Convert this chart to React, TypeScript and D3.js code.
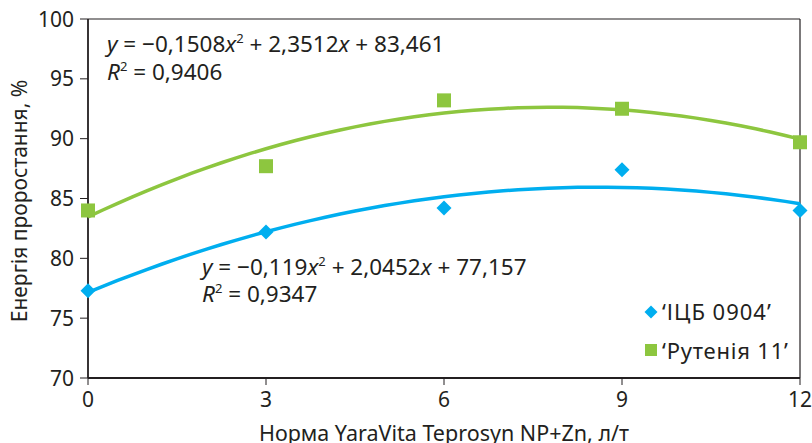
import React from "react";
import * as d3 from "d3";

const rates = [0, 3, 6, 9, 12];
const icbValues = [77.3, 82.2, 84.2, 87.4, 84.0];
const rutValues = [84.0, 87.7, 93.2, 92.5, 89.7];
const icbCoef = [-0.119, 2.0452, 77.157];
const rutCoef = [-0.1508, 2.3512, 83.461];
const yTicks = [70, 75, 80, 85, 90, 95, 100];
const xTicks = [0, 3, 6, 9, 12];
const seriesNames = ["‘ІЦБ 0904’", "‘Рутенія 11’"];

const W = 812, H = 443;
const M = { left: 88, right: 800, top: 19, bottom: 378 };
const BLUE = "#00aeef";
const GREEN = "#8dc63f";
const INK = "#231f20";
const FONT = "'Noto Sans', sans-serif";

export default function App() {
  const x = d3.scaleLinear().domain([0, 12]).range([M.left, M.right]);
  const y = d3.scaleLinear().domain([70, 100]).range([M.bottom, M.top]);
  const fine = d3.range(0, 12.001, 0.25);
  const poly = (c: number[], t: number) => c[0] * t * t + c[1] * t + c[2];
  const lineXY = d3
    .line<[number, number]>()
    .x((d) => x(d[0]))
    .y((d) => y(d[1]));
  const blueTrend = lineXY(fine.map((t) => [t, poly(icbCoef, t)] as [number, number]));
  const greenTrend = lineXY(fine.map((t) => [t, poly(rutCoef, t)] as [number, number]));

  const diamond = (cx: number, cy: number, r: number) =>
    `M${cx},${cy - r}L${cx + r},${cy}L${cx},${cy + r}L${cx - r},${cy}Z`;

  return (
    <svg width={W} height={H} style={{ position: "absolute", left: 0, top: 0 }} fontFamily={FONT}>
      <rect width={W} height={H} fill="#fff" />
      {/* frame */}
      <line x1={M.left} x2={M.right} y1={M.top} y2={M.top} stroke={INK} strokeWidth={1.2} />
      <line x1={M.right} x2={M.right} y1={M.top} y2={M.bottom} stroke={INK} strokeWidth={1.2} />
      <line x1={M.left} x2={M.left} y1={M.top} y2={M.bottom} stroke={INK} strokeWidth={1.8} />
      <line x1={M.left} x2={M.right} y1={M.bottom} y2={M.bottom} stroke={INK} strokeWidth={1.8} />
      {yTicks.map((t) => (
        <g key={"y" + t}>
          <line x1={M.left - 8} x2={M.left} y1={y(t)} y2={y(t)} stroke={INK} strokeWidth={1} />
          <text x={M.left - 14} y={y(t)} dy="0.36em" textAnchor="end" fontSize={21} fill={INK}>
            {t}
          </text>
        </g>
      ))}
      {xTicks.map((t) => (
        <g key={"x" + t}>
          <line x1={x(t)} x2={x(t)} y1={M.bottom} y2={M.bottom + 7} stroke={INK} strokeWidth={1} />
          <text x={x(t)} y={M.bottom + 29} textAnchor="middle" fontSize={21} fill={INK}>
            {t}
          </text>
        </g>
      ))}
      <text x={444} y={441} textAnchor="middle" fontSize={21.5} fill={INK}>
        Норма YaraVita Teprosyn NP+Zn, л/т
      </text>
      <text
        transform={`translate(27,201) rotate(-90)`}
        textAnchor="middle"
        fontSize={21}
        fill={INK}
      >
        Енергія проростання, %
      </text>

      {/* trendlines */}
      <path d={greenTrend || ""} fill="none" stroke={GREEN} strokeWidth={3.5} />
      <path d={blueTrend || ""} fill="none" stroke={BLUE} strokeWidth={3.5} />

      {/* points */}
      {rates.map((r, i) => (
        <rect key={"g" + i} x={x(r) - 7} y={y(rutValues[i]) - 7} width={14} height={14} fill={GREEN} />
      ))}
      {rates.map((r, i) => (
        <path key={"b" + i} d={diamond(x(r), y(icbValues[i]), 7.5)} fill={BLUE} />
      ))}

      {/* equations */}
      <text x={107} y={52} fontSize={22.5} fill={INK}>
        <tspan fontStyle="italic">y</tspan> = −0,1508<tspan fontStyle="italic">x</tspan>
        <tspan fontSize={13} dy={-9}>2</tspan>
        <tspan dy={9}> + 2,3512</tspan>
        <tspan fontStyle="italic">x</tspan> + 83,461
      </text>
      <text x={107} y={80} fontSize={22.5} fill={INK}>
        <tspan fontStyle="italic">R</tspan>
        <tspan fontSize={13} dy={-9}>2</tspan>
        <tspan dy={9}> = 0,9406</tspan>
      </text>
      <text x={202} y={275} fontSize={22.5} fill={INK}>
        <tspan fontStyle="italic">y</tspan> = −0,119<tspan fontStyle="italic">x</tspan>
        <tspan fontSize={13} dy={-9}>2</tspan>
        <tspan dy={9}> + 2,0452</tspan>
        <tspan fontStyle="italic">x</tspan> + 77,157
      </text>
      <text x={202} y={302} fontSize={22.5} fill={INK}>
        <tspan fontStyle="italic">R</tspan>
        <tspan fontSize={13} dy={-9}>2</tspan>
        <tspan dy={9}> = 0,9347</tspan>
      </text>

      {/* legend */}
      <path d={diamond(651, 312, 6.5)} fill={BLUE} />
      <text x={662} y={320} fontSize={22} letterSpacing={1} fill={INK}>
        {seriesNames[0]}
      </text>
      <rect x={645} y={344} width={12} height={12} fill={GREEN} />
      <text x={662} y={359} fontSize={22} letterSpacing={0.8} fill={INK}>
        {seriesNames[1]}
      </text>
    </svg>
  );
}
